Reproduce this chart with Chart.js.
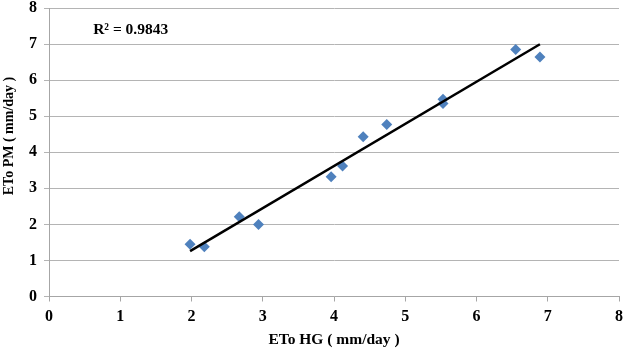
<!DOCTYPE html>
<html>
<head>
<meta charset="utf-8">
<script src="https://cdn.jsdelivr.net/npm/chart.js@4"></script>
<style>
html,body{margin:0;padding:0;background:#fff;}
#wrap{width:629px;height:349px;}
</style>
</head>
<body>
<div id="wrap"><canvas id="c" width="629" height="349"></canvas></div>
<script>
const etoHG = [1.98, 2.18, 2.67, 2.94, 3.96, 4.12, 4.41, 4.74, 5.53, 5.53, 6.55, 6.89];
const etoPM = [1.45, 1.38, 2.21, 2.00, 3.32, 3.62, 4.43, 4.77, 5.47, 5.35, 6.85, 6.64];
const xTicks = [0, 1, 2, 3, 4, 5, 6, 7, 8];
const yTicks = [0, 1, 2, 3, 4, 5, 6, 7, 8];
const r2Label = 'R² = 0.9843';
const xTitle = 'ETo HG ( mm/day )';
const yTitle = 'ETo PM ( mm/day )';

// least-squares trend line from the data
const n = etoHG.length;
const mx = etoHG.reduce((a, b) => a + b, 0) / n;
const my = etoPM.reduce((a, b) => a + b, 0) / n;
let sxy = 0, sxx = 0;
for (let i = 0; i < n; i++) { sxy += (etoHG[i] - mx) * (etoPM[i] - my); sxx += (etoHG[i] - mx) ** 2; }
const slope = sxy / sxx, icpt = my - slope * mx;
const xmin = Math.min(...etoHG), xmax = Math.max(...etoHG);
const trend = [{x: xmin, y: icpt + slope * xmin}, {x: xmax, y: icpt + slope * xmax}];

const serif = "'Liberation Serif', 'Times New Roman', serif";

const textPlugin = {
  id: 'texts',
  afterDatasetsDraw(chart) {
    const ctx = chart.ctx;
    const xs = chart.scales.x, ys = chart.scales.y;
    ctx.save();
    ctx.font = "bold 15.5px " + serif;
    ctx.fillStyle = '#000';
    ctx.textBaseline = 'middle';
    ctx.textAlign = 'left';
    ctx.fillText(r2Label, xs.getPixelForValue(0.62), ys.getPixelForValue(7.4));
    // y axis title (placed above centre as in the original)
    ctx.font = "bold 14px " + serif;
    ctx.translate(9, ys.getPixelForValue(4.45));
    ctx.rotate(-Math.PI / 2);
    ctx.textAlign = 'center';
    ctx.fillText(yTitle, 0, 0);
    ctx.restore();
  }
};

new Chart(document.getElementById('c'), {
  data: {
    datasets: [
      {
        type: 'scatter',
        data: etoHG.map((x, i) => ({x, y: etoPM[i]})),
        pointStyle: 'rectRot',
        pointRadius: 5.5,
        pointBackgroundColor: '#4F81BD',
        pointBorderColor: '#4F81BD',
        pointBorderWidth: 0,
        order: 2
      },
      {
        type: 'line',
        data: trend,
        borderColor: '#000',
        borderWidth: 2.5,
        pointRadius: 0,
        fill: false,
        order: 1
      }
    ]
  },
  options: {
    responsive: false,
    animation: false,
    devicePixelRatio: 1,
    layout: {padding: {left: 0, right: 10, top: 8, bottom: 0}},
    plugins: {legend: {display: false}, tooltip: {enabled: false}},
    scales: {
      x: {
        type: 'linear', min: 0, max: 8,
        afterBuildTicks: s => { s.ticks = xTicks.map(v => ({value: v})); },
        afterFit: s => { s.height = 52.5; },
        grid: {display: true, drawOnChartArea: false, drawTicks: true, tickLength: 5, color: '#a6a6a6'},
        border: {display: true, color: '#a6a6a6', width: 1},
        ticks: {color: '#000', font: {family: serif, size: 16, weight: 'bold'}, padding: 6},
        title: {display: true, text: xTitle, color: '#000', font: {family: serif, size: 15.5, weight: 'bold'}, padding: {top: 2, bottom: 0}}
      },
      y: {
        type: 'linear', min: 0, max: 8,
        afterBuildTicks: s => { s.ticks = yTicks.map(v => ({value: v})); },
        afterFit: s => { s.width = 49; s.paddingTop = 0; },
        grid: {display: true, drawOnChartArea: true, drawTicks: true, tickLength: 5, color: '#b4b4b4'},
        border: {display: true, color: '#a6a6a6', width: 1},
        ticks: {color: '#000', font: {family: serif, size: 16, weight: 'bold'}, padding: 7},
        title: {display: false}
      }
    }
  },
  plugins: [textPlugin]
});
</script>
</body>
</html>
